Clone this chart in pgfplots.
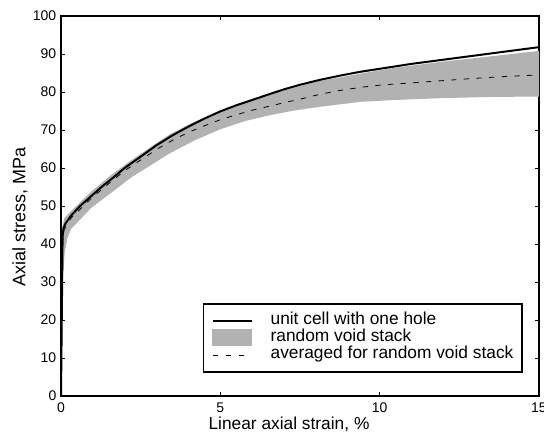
\documentclass[border=0pt]{standalone}
\usepackage{fontspec}
\setmainfont{Liberation Sans}
\usepackage{pgfplots}
\pgfplotsset{compat=1.18}
\usepgfplotslibrary{fillbetween}

\definecolor{bandgray}{RGB}{178,178,178}

\begin{document}
\begin{tikzpicture}
\begin{axis}[
    name=ax,
    scale only axis,
    width=358.5pt,
    height=285pt,
    xmin=0, xmax=15,
    ymin=0, ymax=100,
    xtick={0,5,10,15},
    ytick={0,10,...,100},
    tick align=inside,
    xtick pos=both,
    ytick pos=both,
    major tick length=3pt,
    axis line style={line width=0.8pt},
    every tick/.style={black, line width=0.6pt},
    tick label style={font=\fontsize{10.5}{12}\selectfont},
    /pgf/number format/assume math mode=true,
    xticklabel style={yshift=-1.5pt},
    label style={font=\fontsize{13}{15}\selectfont},
    xlabel={Linear axial strain, \%},
    ylabel={Axial stress, MPa},
    xlabel style={at={(axis description cs:0.477,-0.0745)}, anchor=center},
    ylabel style={at={(axis description cs:-0.0858,0.471)}, anchor=center, font=\fontsize{13.5}{15}\selectfont},
    legend image code/.code={\draw[#1] (0pt,0pt) -- (29pt,0pt);},
    legend cell align=left,
    legend style={
        at={(0.966,0.061)},
        anchor=south east,
        draw=black,
        line width=1pt,
        inner xsep=6.5pt,
        inner ysep=6pt,
        row sep=0pt,
        font=\fontsize{13}{13}\selectfont,
        nodes={inner sep=0pt, text height=9pt, text depth=4pt},
        /tikz/every odd column/.append style={column sep=13.5pt},
    },
]

% random void stack: upper and lower envelope
\addplot[draw=none, forget plot, name path=up] table {
x y
0 0
0.04 44
0.1 46.8
0.32 48.7
0.95 53.8
1.58 58.2
2.2 62.0
2.83 65.6
3.4 68.8
4.2 72.2
5.0 75.0
6.0 77.9
7.0 80.5
8.13 82.9
9.38 84.8
10.5 86.4
12 88.0
13.5 89.4
15 90.8
};
\addplot[draw=none, forget plot, name path=lo] table {
x y
0 0
0.05 30
0.12 38
0.2 41.5
0.32 44
0.95 49.5
1.58 53.5
2.2 57.5
2.83 60.8
3.4 63.8
4.2 67.3
5.0 70.2
5.8 72.4
6.56 73.9
7.3 75.1
8.13 76.1
9.38 77.4
10.5 77.9
12 78.4
13.5 78.7
15 78.8
};
\addplot[bandgray, forget plot] fill between[of=up and lo];

% unit cell with one hole
\addplot[black, line width=1.5pt, forget plot] table {
x y
0 0
0.05 42
0.08 44.3
0.15 45.5
0.32 47.5
0.6 50.0
0.95 52.6
1.3 55.2
1.6 57.2
2.0 60.0
2.5 63.0
3.0 66.0
3.5 68.6
4.0 70.9
4.5 73.0
5.0 74.9
5.5 76.5
6.0 77.9
6.56 79.5
7.0 80.7
7.5 81.9
8.13 83.2
8.75 84.3
9.38 85.3
10 86.1
11 87.4
12 88.5
13 89.6
14 90.7
15 91.8
};

% averaged for random void stack
\addplot[black, line width=0.6pt, dash pattern=on 4pt off 5.5pt, forget plot] table {
x y
0 0
0.05 41
0.1 43.8
0.32 46.9
0.95 52.0
1.3 54.5
1.6 56.6
2.0 59.3
2.5 62.1
3.0 64.9
3.5 67.3
4.0 69.4
4.5 71.1
5.0 72.7
5.5 74.0
6.0 75.2
6.56 76.3
7.0 77.2
7.5 78.1
8.13 79.4
8.75 80.4
9.38 81.2
10 81.8
11 82.4
12 83.0
13 83.6
14 84.1
15 84.5
};

\addlegendimage{black, line width=1.5pt}
\addlegendentry{unit cell with one hole}
\addlegendimage{legend image code/.code={\fill[bandgray] (0pt,-5.5pt) rectangle (29pt,6pt);}}
\addlegendentry{random void stack}
\addlegendimage{legend image code/.code={\draw[black, line width=0.6pt, dash pattern=on 4pt off 5.75pt] (0pt,0pt) -- (24pt,0pt);}}
\addlegendentry{averaged for random void stack}

\end{axis}
\pgfresetboundingbox
\path ([shift={(-45.75pt,-28.5pt)}]ax.south west) rectangle ([shift={(3.75pt,12pt)}]ax.north east);
\end{tikzpicture}
\end{document}
